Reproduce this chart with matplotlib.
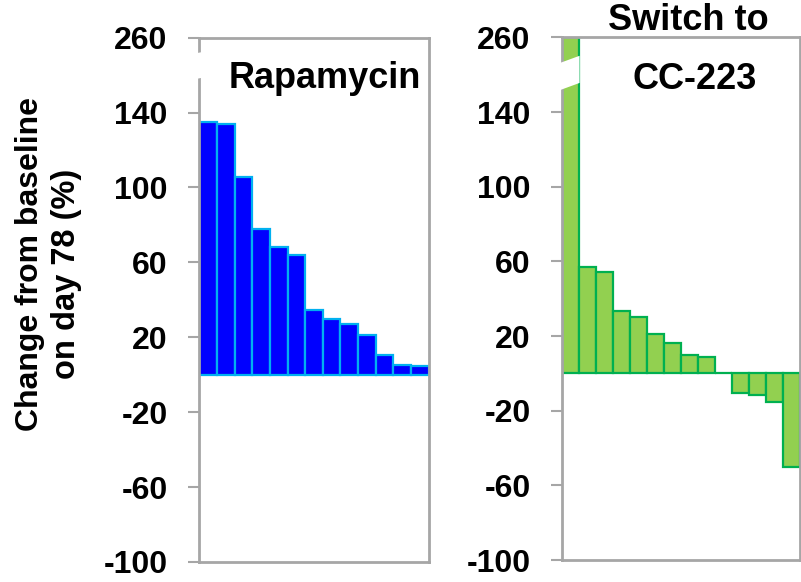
import numpy as np
import matplotlib
matplotlib.use("Agg")
import matplotlib.pyplot as plt
from matplotlib.patches import Polygon

# waterfall values, % change from baseline on day 78
rapa_vals = [134.8, 134.0, 105.5, 78.0, 68.4, 63.7, 34.8, 29.6, 26.9, 21.4, 10.4, 5.2, 4.7]
cc223_vals = [260, 57.2, 54.5, 33.2, 30.1, 20.9, 16.1, 10.0, 9.0, 0.4, -10.4, -11.6, -15.4, -50.4]
ytick_vals = [-100, -60, -20, 20, 60, 100, 140, 260]
ytick_labels = ["-100", "-60", "-20", "20", "60", "100", "140", "260"]

plt.rcParams['font.family'] = ['Liberation Sans', 'DejaVu Sans']
plt.rcParams['font.weight'] = 'bold'

GRAY = '#a6a6a6'

# broken y axis: 165..250 squeezed together
def fwd(v):
    return np.interp(v, [-1000, 165, 250, 1000], [-1000, 165, 170, 920])

def inv(u):
    return np.interp(u, [-1000, 165, 170, 920], [-1000, 165, 250, 1000])


def setup(ax, gap_pts):
    ax.set_yscale('function', functions=(fwd, inv))
    ax.set_ylim(-100, 260)
    ax.set_yticks(ytick_vals)
    ax.set_yticklabels(ytick_labels)
    ax.set_xticks([])
    for s in ax.spines.values():
        s.set_color(GRAY)
        s.set_linewidth(2)
    ax.tick_params(axis='y', direction='out', length=8, width=1.5, color=GRAY,
                   pad=15, labelsize=23)
    for t in ax.get_yticklabels():
        t.set_fontweight('bold')
    # white gap marking the axis break
    gap = Polygon(gap_pts, closed=True, transform=ax.transAxes, facecolor='white',
                  edgecolor='none', clip_on=False, zorder=10)
    ax.add_patch(gap)


fig = plt.figure(figsize=(8.01, 5.82), dpi=100)

ax1 = fig.add_axes([0.249, 0.0344, 0.286, 0.901])
x1 = np.arange(len(rapa_vals))
ax1.bar(x1, rapa_vals, width=1.0, color='#0000ff', edgecolor='#00b0f0', linewidth=1.6)
ax1.set_xlim(-0.5, len(rapa_vals) - 0.5)
setup(ax1, [(-0.06, 0.917), (0.04, 0.926), (0.04, 0.975), (-0.06, 0.966)])

ax2 = fig.add_axes([0.7022, 0.0378, 0.2965, 0.8978])
x2 = np.arange(len(cc223_vals))
ax2.bar(x2, cc223_vals, width=1.0, color='#92d050', edgecolor='#00b050', linewidth=1.6)
ax2.set_xlim(-0.5, len(cc223_vals) - 0.5)
setup(ax2, [(-0.06, 0.891), (0.072, 0.913), (0.072, 0.965), (-0.06, 0.943)])

fig.text(325 / 801, 1 - 87.5 / 582, "Rapamycin", ha='center', va='baseline',
         fontsize=26, fontweight='bold')
fig.text(688 / 801, 1 - 30 / 582, "Switch to", ha='center', va='baseline',
         fontsize=26, fontweight='bold')
fig.text(694.5 / 801, 1 - 89 / 582, "CC-223", ha='center', va='baseline',
         fontsize=26, fontweight='bold')
fig.text(30 / 801, 1 - 264 / 582, "Change from baseline",
         rotation=90, ha='center', va='center', fontsize=23, fontweight='bold')
fig.text(67 / 801, 1 - 274 / 582, "on day 78 (%)",
         rotation=90, ha='center', va='center', fontsize=23.5, fontweight='bold')

fig.savefig("out.png", dpi=100)
